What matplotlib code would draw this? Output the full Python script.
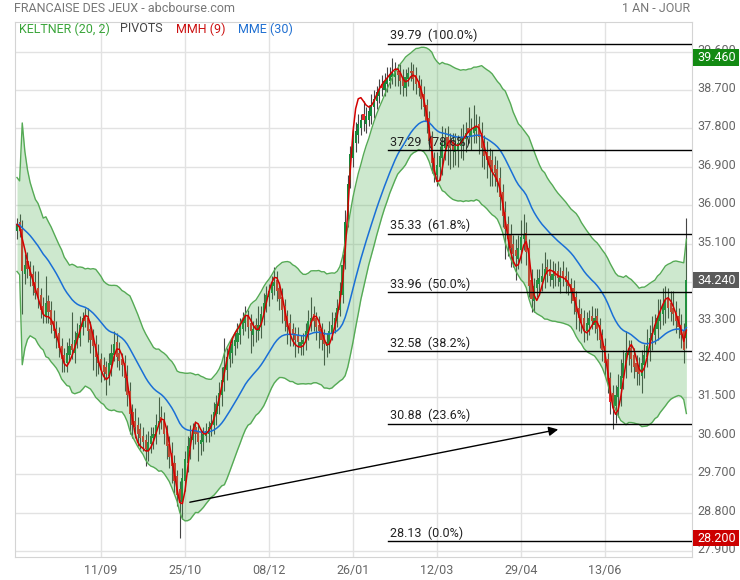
import numpy as np
import pandas as pd
import matplotlib
matplotlib.use("Agg")
import matplotlib.pyplot as plt
import matplotlib.transforms as mtransforms
from matplotlib.patches import Rectangle

plt.rcParams['font.family'] = ['Roboto', 'DejaVu Sans']

# daily candles, 27/07/2023 -> 26/07/2024
opens = [
    35.40, 35.60, 35.45, 34.40, 34.70, 34.55, 34.40, 34.20, 34.05, 33.90,
    33.65, 33.40, 33.75, 33.55, 33.30, 33.10, 33.00, 32.70, 32.50, 32.30,
    32.50, 32.75, 32.55, 32.80, 32.90, 33.15, 33.40, 33.35, 33.10, 32.95,
    32.75, 32.50, 32.40, 32.25, 32.20, 32.00, 32.25, 32.50, 32.80, 32.55,
    32.40, 32.30, 32.00, 31.65, 31.15, 30.95, 30.85, 30.75, 30.60, 30.50,
    30.25, 30.40, 30.55, 30.60, 30.80, 31.05, 30.95, 30.70, 30.40, 30.20,
    29.95, 29.65, 29.35, 29.05, 29.55, 29.95, 30.30, 30.50, 30.80, 30.70,
    30.40, 30.45, 30.60, 30.65, 30.75, 30.85, 31.10, 31.30, 31.55, 31.85,
    32.15, 32.40, 32.55, 32.70, 32.80, 32.95, 33.10, 33.25, 33.40, 33.25,
    32.95, 33.20, 33.05, 33.15, 33.40, 33.65, 33.85, 33.95, 34.10, 34.25,
    34.05, 33.85, 33.65, 33.40, 33.25, 33.10, 33.00, 32.95, 32.70, 32.75,
    32.80, 33.00, 33.25, 33.45, 33.35, 33.20, 33.10, 32.95, 32.70, 32.75,
    33.00, 33.15, 33.30, 33.55, 33.90, 34.70, 35.70, 36.60, 37.10, 37.45,
    37.65, 37.80, 38.15, 37.90, 38.00, 38.10, 38.30, 38.45, 38.55, 38.85,
    38.70, 38.85, 38.90, 39.00, 39.00, 39.15, 39.10, 38.95, 38.75, 38.95,
    39.15, 39.15, 39.05, 38.90, 38.80, 38.60, 38.35, 38.05, 37.60, 37.10,
    36.70, 36.90, 37.10, 37.35, 37.60, 37.50, 37.45, 37.25, 37.30, 37.40,
    37.45, 37.55, 37.80, 37.60, 37.70, 37.75, 37.90, 37.70, 37.45, 37.25,
    37.15, 37.05, 36.95, 36.85, 36.65, 36.30, 35.85, 35.55, 35.30, 35.10,
    34.95, 34.75, 34.95, 35.20, 35.35, 35.00, 34.25, 33.75, 34.05, 34.15,
    34.20, 34.30, 34.55, 34.50, 34.25, 34.45, 34.45, 34.20, 34.45, 34.35,
    34.25, 34.15, 34.05, 33.85, 33.60, 33.45, 33.35, 33.05, 33.20, 33.40,
    33.20, 33.40, 33.20, 32.95, 32.70, 32.40, 31.95, 31.60, 31.30, 31.50,
    31.70, 31.95, 32.25, 32.50, 32.65, 32.50, 32.30, 32.20, 32.00, 32.25,
    32.45, 32.65, 32.85, 32.95, 33.10, 33.30, 33.45, 33.55, 33.80, 33.70,
    33.60, 33.50, 33.40, 33.20, 33.05, 32.90,
]
closes = [
    35.55, 35.40, 34.45, 34.60, 34.50, 34.35, 34.10, 33.95, 33.85, 33.55,
    33.45, 33.70, 33.50, 33.20, 33.05, 32.90, 32.65, 32.40, 32.35, 32.55,
    32.70, 32.60, 32.85, 33.00, 33.20, 33.35, 33.30, 33.05, 32.85, 32.70,
    32.45, 32.30, 32.15, 32.10, 32.05, 32.30, 32.55, 32.75, 32.45, 32.35,
    32.25, 31.95, 31.55, 31.10, 30.85, 30.80, 30.65, 30.55, 30.45, 30.30,
    30.45, 30.60, 30.65, 30.85, 30.95, 30.95, 30.65, 30.35, 30.10, 29.90,
    29.55, 29.20, 29.10, 29.60, 30.05, 30.35, 30.55, 30.70, 30.65, 30.45,
    30.50, 30.65, 30.70, 30.80, 30.90, 31.15, 31.35, 31.60, 31.90, 32.20,
    32.45, 32.60, 32.75, 32.85, 33.00, 33.15, 33.30, 33.35, 33.15, 33.05,
    33.10, 33.10, 33.20, 33.45, 33.70, 33.90, 34.00, 34.15, 34.20, 34.00,
    33.80, 33.55, 33.30, 33.15, 33.00, 32.95, 32.85, 32.80, 32.80, 32.85,
    33.05, 33.30, 33.35, 33.30, 33.15, 33.05, 32.85, 32.75, 32.80, 33.05,
    33.20, 33.35, 33.60, 34.00, 34.60, 35.60, 36.50, 37.20, 37.60, 37.75,
    37.90, 38.00, 38.00, 38.10, 38.20, 38.35, 38.50, 38.65, 38.70, 38.75,
    38.90, 38.95, 39.05, 39.10, 39.15, 39.05, 38.90, 38.80, 39.00, 39.10,
    39.10, 38.95, 38.85, 38.75, 38.50, 38.30, 37.95, 37.50, 37.00, 36.75,
    36.95, 37.15, 37.45, 37.50, 37.40, 37.35, 37.30, 37.40, 37.45, 37.55,
    37.60, 37.70, 37.70, 37.75, 37.80, 37.85, 37.60, 37.35, 37.15, 37.05,
    36.95, 36.85, 36.75, 36.55, 36.20, 35.75, 35.45, 35.20, 35.00, 34.85,
    34.80, 35.00, 35.25, 35.30, 34.90, 34.10, 33.80, 34.10, 34.25, 34.30,
    34.35, 34.50, 34.40, 34.35, 34.40, 34.35, 34.30, 34.35, 34.30, 34.20,
    34.10, 33.95, 33.75, 33.50, 33.35, 33.25, 33.10, 33.25, 33.35, 33.30,
    33.35, 33.10, 32.85, 32.60, 32.30, 31.85, 31.40, 31.35, 31.55, 31.75,
    32.00, 32.30, 32.55, 32.60, 32.40, 32.20, 32.10, 32.05, 32.30, 32.50,
    32.70, 32.90, 33.00, 33.20, 33.35, 33.50, 33.65, 33.75, 33.60, 33.50,
    33.45, 33.30, 33.15, 32.95, 32.60, 34.24,
]

# wick length above / below each candle body
wick_hi = [
    0.15, 0.20, 0.20, 0.25, 0.20, 0.15, 0.20, 0.25, 0.40, 0.15,
    0.20, 0.65, 0.15, 0.20, 0.25, 0.20, 0.15, 0.20, 0.15, 0.25,
    0.20, 0.75, 0.20, 0.25, 0.20, 0.15, 0.20, 0.25, 0.20, 0.15,
    0.20, 0.25, 0.15, 0.20, 0.15, 0.25, 0.20, 0.30, 0.20, 0.25,
    0.15, 0.20, 0.25, 0.20, 0.20, 0.30, 0.20, 0.15, 0.20, 0.15,
    0.25, 0.20, 0.15, 0.25, 0.55, 0.25, 0.20, 0.15, 0.20, 0.25,
    0.20, 0.15, 0.20, 0.25, 0.20, 0.25, 0.30, 0.20, 0.15, 0.15,
    0.20, 0.15, 0.20, 0.15, 0.20, 0.25, 0.20, 0.25, 0.30, 0.70,
    0.20, 0.25, 0.15, 0.20, 0.25, 0.20, 0.20, 0.30, 0.15, 0.20,
    0.20, 0.15, 0.45, 0.20, 0.25, 0.20, 0.15, 0.20, 0.35, 0.20,
    0.15, 0.20, 0.15, 0.15, 0.20, 0.15, 0.15, 0.20, 0.15, 0.15,
    0.20, 0.25, 0.50, 0.20, 0.15, 0.20, 0.15, 0.15, 0.20, 0.25,
    0.30, 0.15, 0.20, 0.20, 0.25, 0.30, 0.20, 0.20, 0.25, 0.20,
    0.25, 0.15, 0.30, 0.20, 0.15, 0.25, 0.20, 0.15, 0.25, 0.20,
    0.20, 0.30, 0.20, 0.36, 0.20, 0.15, 0.20, 0.25, 0.20, 0.15,
    0.20, 0.15, 0.20, 0.15, 0.15, 0.20, 0.15, 0.15, 0.15, 0.15,
    0.30, 0.25, 0.40, 0.30, 0.25, 0.20, 0.25, 0.30, 0.20, 0.25,
    0.30, 0.25, 0.50, 0.30, 0.55, 0.30, 0.20, 0.25, 0.20, 0.25,
    0.20, 0.25, 0.20, 0.20, 0.25, 0.20, 0.25, 0.20, 0.25, 0.20,
    0.25, 0.30, 0.40, 0.50, 0.25, 0.20, 0.25, 0.20, 0.25, 0.20,
    0.30, 0.40, 0.20, 0.25, 0.30, 0.20, 0.25, 0.20, 0.25, 0.20,
    0.20, 0.15, 0.20, 0.15, 0.20, 0.15, 0.20, 0.25, 0.20, 0.25,
    0.25, 0.20, 0.15, 0.15, 0.20, 0.15, 0.15, 0.20, 0.25, 0.30,
    0.40, 0.30, 0.50, 0.25, 0.20, 0.15, 0.20, 0.25, 0.30, 0.25,
    0.40, 0.30, 0.40, 0.25, 0.45, 0.30, 0.40, 0.35, 0.25, 0.30,
    0.40, 0.25, 0.20, 0.25, 0.20, 1.46,
]
wick_lo = [
    0.20, 0.15, 1.00, 0.25, 0.20, 0.25, 0.20, 0.15, 0.25, 0.20,
    0.20, 0.15, 0.25, 0.20, 0.15, 0.25, 0.20, 0.30, 0.25, 0.20,
    0.15, 0.20, 0.25, 0.15, 0.20, 0.20, 0.15, 0.25, 0.30, 0.55,
    0.45, 0.25, 0.30, 0.20, 0.50, 0.20, 0.25, 0.15, 0.25, 0.20,
    0.25, 0.30, 0.25, 0.45, 0.30, 0.25, 0.30, 0.25, 0.20, 0.40,
    0.25, 0.20, 0.25, 0.20, 0.15, 0.20, 0.25, 0.30, 0.25, 0.40,
    0.30, 0.25, 0.90, 0.40, 0.25, 0.20, 0.25, 0.20, 0.25, 0.45,
    0.25, 0.20, 0.15, 0.20, 0.15, 0.20, 0.25, 0.20, 0.25, 0.20,
    0.25, 0.20, 0.25, 0.20, 0.15, 0.20, 0.15, 0.20, 0.25, 0.50,
    0.25, 0.30, 0.20, 0.25, 0.20, 0.15, 0.20, 0.15, 0.20, 0.25,
    0.25, 0.30, 0.25, 0.40, 0.30, 0.25, 0.40, 0.25, 0.20, 0.25,
    0.20, 0.15, 0.20, 0.25, 0.30, 0.40, 0.25, 0.50, 0.25, 0.20,
    0.15, 0.15, 0.15, 0.15, 0.20, 0.20, 0.20, 0.20, 0.20, 0.20,
    0.20, 0.15, 0.25, 0.20, 0.15, 0.20, 0.25, 0.20, 0.15, 0.20,
    0.15, 0.20, 0.15, 0.15, 0.20, 0.25, 0.30, 0.25, 0.20, 0.15,
    0.20, 0.25, 0.25, 0.20, 0.25, 0.20, 0.25, 0.20, 0.25, 0.20,
    0.25, 0.30, 0.40, 0.30, 0.45, 0.50, 0.40, 0.30, 0.40, 0.30,
    0.40, 0.30, 0.25, 0.30, 0.25, 0.30, 0.40, 0.45, 0.30, 0.40,
    0.50, 0.40, 0.30, 0.25, 0.30, 0.25, 0.70, 0.40, 0.45, 0.30,
    0.55, 0.25, 0.30, 0.25, 0.30, 0.25, 0.30, 0.25, 0.20, 0.25,
    0.20, 0.25, 0.20, 0.25, 0.20, 0.25, 0.20, 0.25, 0.20, 0.25,
    0.20, 0.25, 0.30, 0.40, 0.30, 0.25, 0.30, 0.20, 0.25, 0.20,
    0.20, 0.25, 0.20, 0.25, 0.30, 0.25, 0.30, 0.60, 0.40, 0.45,
    0.40, 0.25, 0.30, 0.25, 0.30, 0.25, 0.30, 0.25, 0.40, 0.30,
    0.25, 0.30, 0.25, 0.20, 0.25, 0.20, 0.25, 0.30, 0.25, 0.20,
    0.25, 0.30, 0.25, 0.30, 0.30, 0.25,
]

tick_pos = [32, 64, 96, 128, 160, 192, 224]
tick_labels = ['11/09', '25/10', '08/12', '26/01', '12/03', '29/04', '13/06']
price_ticks = [27.9 + 0.9 * k for k in range(14)]

fib_levels = [39.79, 37.29, 35.33, 33.96, 32.58, 30.88, 28.13]
fib_pcts = [100.0, 78.6, 61.8, 50.0, 38.2, 23.6, 0.0]

legend_items = [('KELTNER (20, 2)', '#3aa53a'), ('PIVOTS', '#444444'),
                ('MMH (9)', '#cc1111'), ('MME (30)', '#1f6fd1')]


def wma(x, n):
    """Weighted moving average, using the bars available at the start."""
    out = np.empty(len(x))
    for i in range(len(x)):
        w = x[max(0, i - n + 1):i + 1]
        k = np.arange(1, len(w) + 1)
        out[i] = (w * k).sum() / k.sum()
    return out


close = np.array(closes)
opn = np.array(opens)
high = np.maximum(opn, close) + np.array(wick_hi)
low = np.minimum(opn, close) - np.array(wick_lo)
idx = np.arange(len(close))

# keltner: ema20 +/- 2 atr20 (true range needs the previous close)
s = pd.Series(close)
prev = s.shift(1)
tr = pd.concat([pd.Series(high - low), (pd.Series(high) - prev).abs(),
                (pd.Series(low) - prev).abs()], axis=1).max(axis=1, skipna=False)
atr = tr.ewm(span=20, adjust=True).mean().bfill()
mid = s.ewm(span=20, adjust=True).mean()
upper = mid + 2 * atr
lower = mid - 2 * atr
mme = s.ewm(span=30, adjust=False).mean()
mmh = wma(2 * wma(close, 4) - wma(close, 9), 3)

fig = plt.figure(figsize=(7.4, 5.8), dpi=100)
ax = fig.add_axes([15 / 740, 1 - 557 / 580, 677 / 740, 535 / 580])
ax.set_xlim(-0.76, 257.14)
ax.set_ylim(27.759, 40.294)

# candles (drawn under the keltner fill)
up = close >= opn
ax.vlines(idx, low, high, color='#454545', lw=0.8, zorder=2)
ax.bar(idx, np.maximum(np.abs(close - opn), 0.03), bottom=np.minimum(opn, close),
       width=0.8, color=np.where(up, '#15873a', '#e8262a'), lw=0, zorder=3)

ax.fill_between(idx, lower, upper, color='#4caf50', alpha=0.28, lw=0, zorder=4)
ax.plot(idx, upper, color='#55aa55', lw=1, zorder=5)
ax.plot(idx, lower, color='#55aa55', lw=1, zorder=5)
ax.plot(idx, mme, color='#1a6fd6', lw=1.1, zorder=6)
ax.plot(idx, mmh, color='#d40000', lw=1.1, zorder=6)

blend = mtransforms.blended_transform_factory(ax.transAxes, ax.transData)
for v, p in zip(fib_levels, fib_pcts):
    ax.axhline(v, xmin=0.551, xmax=1, color='black', lw=1, zorder=7)
    ax.annotate(f'{v:.2f}  ({p:.1f}%)', xy=(0.554, v), xycoords=blend,
                xytext=(0, 1), textcoords='offset points', va='bottom',
                fontsize=9, color='#222222', zorder=8)

ax.annotate('', xy=(207.2, 30.76), xytext=(64.8, 29.03),
            arrowprops=dict(arrowstyle='-|>', color='black', lw=1, mutation_scale=14),
            zorder=8)

# axes styling
ax.set_xticks(tick_pos)
ax.set_xticklabels(tick_labels)
ax.yaxis.tick_right()
ax.set_yticks(price_ticks)
ax.set_yticklabels([f'{t:.3f}' for t in price_ticks])
ax.tick_params(axis='x', length=0, pad=5, labelsize=9, labelcolor='#666666')
ax.tick_params(axis='y', length=0, pad=4, labelsize=9, labelcolor='#666666')
shift = mtransforms.ScaledTranslation(0, 3 / 100, fig.dpi_scale_trans)
for lbl in ax.get_yticklabels():
    lbl.set_transform(lbl.get_transform() + shift)
ax.grid(True, color='#e2e2e2', lw=1)
ax.set_axisbelow(True)
for sp in ax.spines.values():
    sp.set_color('#d4d4d4')

# last / high / low boxes on the price axis
boxes = [(high.max(), '#138a13'), (close[-1], '#5a5a5a'), (low.min(), '#cc0000')]
for v, col in boxes:
    ax.add_patch(Rectangle((1.0015, v - 0.19), 0.068, 0.38, transform=blend,
                           facecolor=col, edgecolor='none', clip_on=False, zorder=10))
    ax.text(1.0074, v, f'{v:.3f}', transform=blend, va='center', ha='left',
            color='white', fontsize=9, clip_on=False, zorder=11)

fig.text(14 / 740, 1 - 8 / 580, 'FRANCAISE DES JEUX - abcbourse.com',
         va='center', fontsize=9, color='#777777')
fig.text(690 / 740, 1 - 8 / 580, '1 AN - JOUR', va='center', ha='right',
         fontsize=9, color='#777777')
for (txt, col), xp in zip(legend_items, [19, 120, 176, 238]):
    fig.text(xp / 740, 1 - 29 / 580, txt, va='center', fontsize=9, color=col)

fig.savefig('out.png', dpi=100)
